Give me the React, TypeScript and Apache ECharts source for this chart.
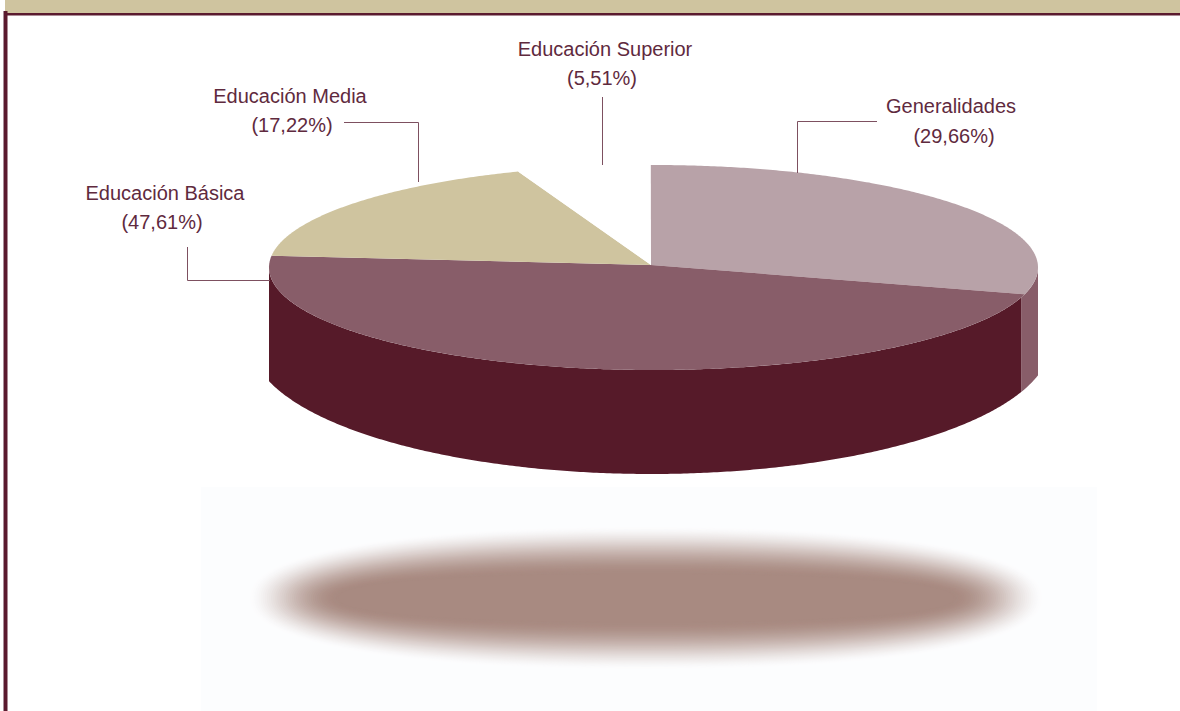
import React, { useEffect, useRef } from "react";
import * as echarts from "echarts";

const categories = ["Generalidades", "Educación Básica", "Educación Media", "Educación Superior"];
const values = [29.66, 47.61, 17.22, 5.51];
const topColors = ["#b8a2a8", "#885d69", "#cfc49f", "#ffffff"];
const wallColors = ["#885d69", "#561a29", "#cfc49f", "#ffffff"];

const TEXT = "#5f2a3e";
const LINE = "#7d5060";
const CX = 653.5, CY = 267.5, RX = 384.5, RY = 102.5;
const APEX: [number, number] = [651, 265];
const SEAM = 1.8;

const rad = (d: number) => (d * Math.PI) / 180;
const topPoint = (t: number): [number, number] => [CX + RX * Math.sin(rad(t)), CY - RY * Math.cos(rad(t))];
// Lower rim of the drum
const bottomY = (x: number) => {
  const d = (x - 651) / 400;
  return 342 + 132 * Math.sqrt(Math.max(0, 1 - d * d));
};

const boundary = (share: number) => (share / 100) * 360 - (share > 90 ? 0.8 : 1.6);

const sliceAngles = (i: number): [number, number] => {
  const before = values.slice(0, i).reduce((a, b) => a + b, 0);
  const start = i === 0 ? -0.4 : boundary(before);
  return [start, boundary(before + values[i])];
};

const renderSlice = (params: any, api: any) => {
  const i = params.dataIndex;
  if (api.value(0) <= 0) return null;
  const [a, b] = sliceAngles(i);
  const children: any[] = [];
  const wa = Math.max(a + SEAM, 90), wb = Math.min(b + SEAM, 270);
  if (wb > wa) {
    const upper: [number, number][] = [];
    const lower: [number, number][] = [];
    for (let t = wa; t <= wb; t += 0.5) {
      const p = topPoint(t);
      upper.push(p);
      lower.unshift([p[0], bottomY(p[0])]);
    }
    const e = topPoint(wb);
    upper.push(e);
    lower.unshift([e[0], bottomY(e[0])]);
    children.push({
      type: "polygon",
      shape: { points: upper.concat(lower) },
      style: { fill: wallColors[i] },
      silent: true,
    });
  }
  const pts: [number, number][] = [APEX];
  for (let t = a; t <= b; t += 0.5) pts.push(topPoint(t));
  pts.push(topPoint(b));
  children.push({
    type: "polygon",
    shape: { points: pts },
    style: { fill: topColors[i] },
    silent: true,
    z2: 5,
  });
  return { type: "group", children };
};

const lerp = (a: number[], b: number[], t: number) =>
  `rgb(${a.map((v, k) => Math.round(v + (b[k] - v) * t)).join(",")})`;

const shadowLayers = () => {
  const out: any[] = [];
  const n = 44;
  const p = 2.3;
  for (let k = 0; k < n; k++) {
    const u = k / (n - 1);
    const s = Math.pow(u * u * (3 - 2 * u), 0.8);
    const rx = 398 - 90 * u;
    const ry = 72 - 48 * u;
    const points: [number, number][] = [];
    for (let d = 0; d < 360; d += 3) {
      const c = Math.cos(rad(d)), si = Math.sin(rad(d));
      points.push([
        646 + rx * Math.sign(c) * Math.pow(Math.abs(c), 2 / p),
        598 + ry * Math.sign(si) * Math.pow(Math.abs(si), 2 / p),
      ]);
    }
    out.push({
      type: "polygon",
      silent: true,
      shape: { points },
      style: { fill: lerp([252, 253, 254], [168, 138, 129], s) },
    });
  }
  return out;
};

const labelLayout = [
  { x: 951, y: 106, px: 954, py: 136 },
  { x: 165, y: 193, px: 162, py: 222 },
  { x: 290, y: 96, px: 292, py: 125 },
  { x: 605, y: 49, px: 602, py: 78 },
];

const leaders: [number, number][][] = [
  [[877, 121.5], [797.5, 121.5], [797.5, 173]],
  [[187.5, 247], [187.5, 280.5], [270, 280.5]],
  [[344, 122.5], [418.5, 122.5], [418.5, 182]],
  [[602.5, 97], [602.5, 165]],
];

const txt = (s: string, x: number, y: number) => ({
  type: "text",
  silent: true,
  z: 10,
  style: {
    text: s,
    x,
    y,
    fill: TEXT,
    font: '20px "Liberation Sans"',
    textAlign: "center",
    textVerticalAlign: "middle",
  },
});

export default function App() {
  const ref = useRef<HTMLDivElement>(null);
  useEffect(() => {
    const chart = echarts.init(ref.current!, null, { renderer: "svg" });
    chart.setOption({
      animation: false,
      backgroundColor: "#ffffff",
      graphic: [
        { type: "rect", silent: true, shape: { x: 5, y: 0, width: 1175, height: 13 }, style: { fill: "#cfc49f" } },
        { type: "rect", silent: true, shape: { x: 3, y: 11, width: 1, height: 700 }, style: { fill: "#a98f99" } },
        { type: "rect", silent: true, shape: { x: 4, y: 13, width: 1176, height: 2.5 }, style: { fill: "#5a1a2e" } },
        { type: "rect", silent: true, shape: { x: 4, y: 11, width: 3.5, height: 700 }, style: { fill: "#5a1a2e" } },
        { type: "rect", silent: true, shape: { x: 201, y: 487, width: 896, height: 224 }, style: { fill: "#fcfdfe" } },
        ...shadowLayers(),
        ...leaders.map((points) => ({
          type: "polyline",
          silent: true,
          z: 10,
          shape: { points },
          style: { stroke: LINE, lineWidth: 1, fill: "none" },
        })),
        ...categories.flatMap((c, i) => [
          txt(c, labelLayout[i].x, labelLayout[i].y),
          txt(`(${values[i].toFixed(2).replace(".", ",")}%)`, labelLayout[i].px, labelLayout[i].py),
        ]),
      ],
      series: [
        {
          type: "custom",
          coordinateSystem: "none",
          renderItem: renderSlice,
          data: values.map((v, i) => ({ name: categories[i], value: [v] })),
          silent: true,
        },
      ],
    });
    return () => chart.dispose();
  }, []);
  return <div ref={ref} style={{ position: "fixed", left: 0, top: 0, width: 1180, height: 711 }} />;
}
